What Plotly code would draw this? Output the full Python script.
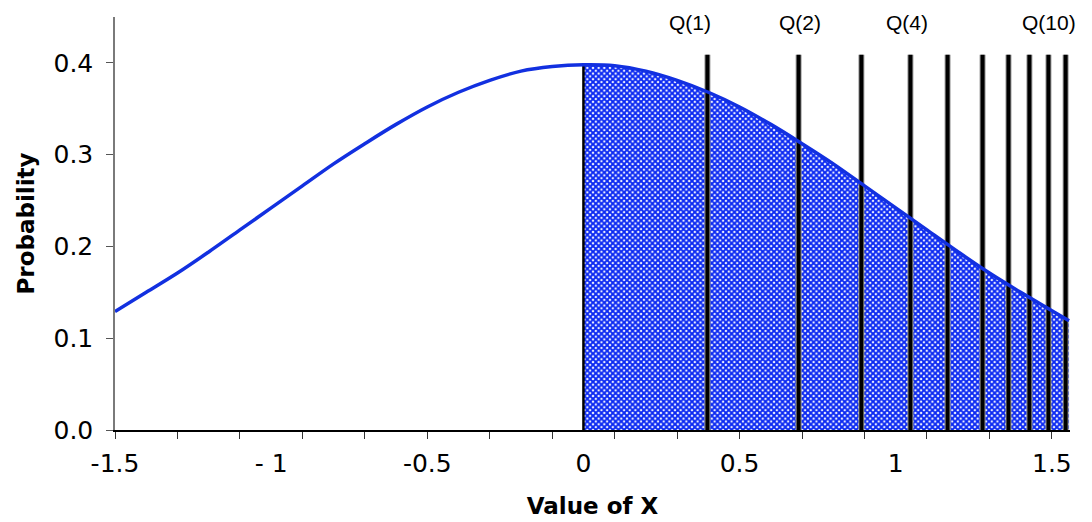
import plotly.graph_objects as go

# Density curve
curve_x = [-1.5, -1.4, -1.3, -1.2, -1.1, -1.0, -0.9, -0.8, -0.7, -0.6, -0.5,
           -0.4, -0.3, -0.2, -0.1, 0.0, 0.1, 0.2, 0.3, 0.4, 0.5, 0.6, 0.7,
           0.8, 0.9, 1.0, 1.1, 1.2, 1.3, 1.4, 1.5, 1.555]
curve_y = [0.129, 0.150, 0.171, 0.194, 0.218, 0.242, 0.266, 0.290, 0.312,
           0.333, 0.352, 0.368, 0.381, 0.391, 0.396, 0.398, 0.397, 0.391,
           0.381, 0.368, 0.352, 0.333, 0.312, 0.290, 0.266, 0.242, 0.218,
           0.194, 0.171, 0.150, 0.130, 0.119]

shade_start = 0.0

# Quantile bars
q_x = [0.397, 0.689, 0.890, 1.047, 1.166, 1.278, 1.361, 1.428, 1.489, 1.544]
q_height = [0.409] * len(q_x)

q_labels = ["Q(1)", "Q(2)", "Q(4)", "Q(10)"]
q_label_x = [0.34, 0.692, 1.036, 1.49]
q_label_y = 0.444

x_tick_vals = [-1.5, -1.0, -0.5, 0.0, 0.5, 1.0, 1.5]
x_tick_text = ["-1.5", "- 1", "-0.5", "0", "0.5", "1", "1.5"]
y_tick_vals = [0.0, 0.1, 0.2, 0.3, 0.4]

LINE_BLUE = "#1230E0"
CHECK_BLUE = "#0A28F2"

sx = [x for x in curve_x if x >= shade_start]
sy = [y for x, y in zip(curve_x, curve_y) if x >= shade_start]

# bar segments built from the quantile arrays
bar_x, bar_y = [], []
for qx, qh in zip(q_x, q_height):
    bar_x += [qx, qx, None]
    bar_y += [0, qh, None]

fig = go.Figure()

# shaded region
fig.add_trace(go.Scatter(
    x=sx, y=sy, mode="lines", line=dict(width=0, shape="spline"),
    fill="tozeroy", fillcolor="white",
    fillpattern=dict(shape="x", fgcolor=CHECK_BLUE, bgcolor="white",
                     size=4, solidity=0.72, fillmode="replace"),
    hoverinfo="skip", showlegend=False))

# left edge of shaded region
fig.add_trace(go.Scatter(
    x=[shade_start, shade_start], y=[0, sy[0]], mode="lines",
    line=dict(color="black", width=2.5), showlegend=False, hoverinfo="skip"))

# quantile bars (gray rim + black core)
fig.add_trace(go.Scatter(
    x=bar_x, y=bar_y, mode="lines", line=dict(color="#9a9a9a", width=6),
    showlegend=False, hoverinfo="skip"))
fig.add_trace(go.Scatter(
    x=bar_x, y=bar_y, mode="lines", line=dict(color="black", width=4),
    showlegend=False, hoverinfo="skip"))

# density curve
fig.add_trace(go.Scatter(
    x=curve_x, y=curve_y, mode="lines",
    line=dict(color=LINE_BLUE, width=3.5, shape="spline"),
    showlegend=False, hoverinfo="skip"))

# invisible trace for label axis
fig.add_trace(go.Scatter(x=[x_tick_vals[0]], y=[0], xaxis="x2", mode="markers",
                         marker=dict(opacity=0), showlegend=False, hoverinfo="skip"))

for t, xv in zip(q_labels, q_label_x):
    fig.add_annotation(x=xv, y=q_label_y, xref="x", yref="y", text=t,
                       showarrow=False, xanchor="center", yanchor="middle",
                       font=dict(family="Liberation Sans, Arial", size=21, color="black"))

rng = [-1.5, 1.558]

fig.update_layout(
    width=1084, height=514,
    margin=dict(l=107, r=22, t=9, b=92),
    plot_bgcolor="white", paper_bgcolor="white",
    xaxis=dict(range=rng, showgrid=False, zeroline=False,
               showline=True, linecolor="black", linewidth=1.5,
               ticks="outside", tickcolor="#333333", ticklen=7, tickwidth=1,
               tick0=-1.5, dtick=0.2, showticklabels=False,
               title=dict(text="Value of X",
                          font=dict(family="DejaVu Sans", size=23, color="black", weight="bold"),
                          standoff=60)),
    xaxis2=dict(range=rng, overlaying="x", side="bottom", anchor="y",
                showgrid=False, zeroline=False, showline=False, ticks="",
                tickvals=x_tick_vals, ticktext=x_tick_text,
                ticklabelstandoff=16,
                tickfont=dict(family="DejaVu Sans", size=25, color="black")),
    yaxis=dict(range=[0, 0.45], showgrid=False, zeroline=False,
               showline=True, linecolor="#7a7a7a", linewidth=1.5,
               ticks="outside", tickcolor="#555555", ticklen=7,
               tickvals=y_tick_vals, tickformat=".1f",
               ticklabelstandoff=8,
               tickfont=dict(family="DejaVu Sans", size=25, color="black"),
               title=dict(text="Probability",
                          font=dict(family="DejaVu Sans", size=23, color="black", weight="bold"),
                          standoff=12)),
)

fig.write_html("out.html")
